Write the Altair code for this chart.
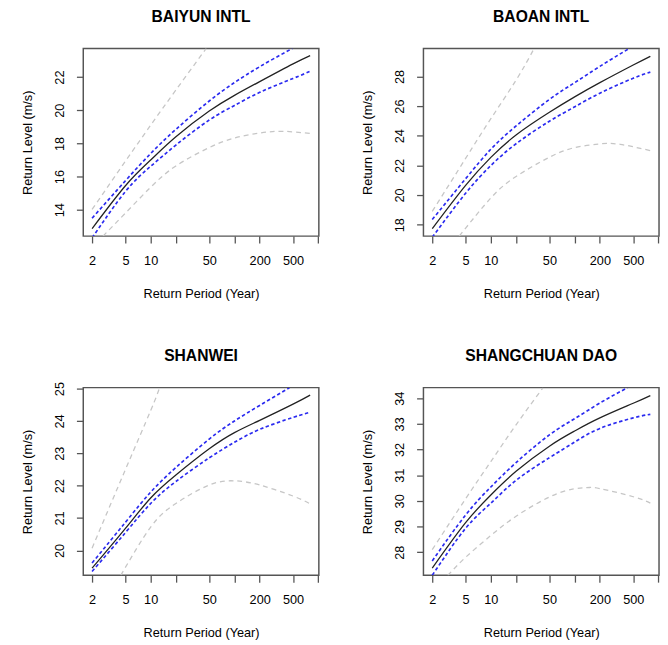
import altair as alt
import pandas as pd

# Panel titles
TITLES = ["BAIYUN INTL", "BAOAN INTL", "SHANWEI", "SHANGCHUAN DAO"]

# Common return periods (years)
RP = [2, 5, 10, 20, 50, 100, 200, 500, 800]

# ---- BAIYUN INTL ----
BY_RL = [12.86, 15.45, 17.0, 18.4, 19.95, 20.9, 21.73, 22.8, 23.3]
BY_HI_X = [2, 5, 10, 20, 50, 100, 200, 490]
BY_HI = [13.49, 15.75, 17.39, 18.85, 20.56, 21.67, 22.63, 23.73]
BY_LO = [12.3, 15.1, 16.62, 17.9, 19.41, 20.29, 21.08, 21.92, 22.35]
BY_GHI_X = [2, 5, 10, 20, 46]
BY_GHI = [14.02, 16.93, 19.1, 21.22, 23.73]
BY_GLO_X = [2.7, 5, 10, 20, 50, 100, 200, 380, 800]
BY_GLO = [12.41, 13.8, 15.36, 16.64, 17.75, 18.33, 18.63, 18.73, 18.6]
BY_YDOM = [12.41, 23.73]
BY_YTICKS = [14, 16, 18, 20, 22]

# ---- BAOAN INTL ----
BA_RL = [17.73, 20.65, 22.54, 24.05, 25.58, 26.62, 27.58, 28.77, 29.36]
BA_HI_X = [2, 5, 10, 20, 50, 100, 200, 449]
BA_HI = [18.35, 21.1, 23.09, 24.66, 26.45, 27.58, 28.68, 29.89]
BA_LO = [17.15, 20.12, 21.99, 23.46, 24.98, 25.95, 26.87, 27.88, 28.29]
BA_GHI_X = [2, 5, 10, 20, 32.9]
BA_GHI = [18.9, 22.47, 25.15, 27.75, 29.89]
BA_GLO_X = [4.2, 10, 20, 50, 100, 200, 350, 800]
BA_GLO = [17.23, 19.8, 21.25, 22.55, 23.2, 23.45, 23.42, 23.0]
BA_YDOM = [17.23, 29.89]
BA_YTICKS = [18, 20, 22, 24, 26, 28]

# ---- SHANWEI ----
SW_RL = [19.45, 20.68, 21.62, 22.33, 23.14, 23.64, 24.02, 24.52, 24.8]
SW_HI_X = [2, 5, 10, 20, 50, 100, 200, 454]
SW_HI = [19.61, 20.87, 21.8, 22.56, 23.44, 24.0, 24.48, 25.03]
SW_LO = [19.35, 20.55, 21.45, 22.13, 22.86, 23.34, 23.74, 24.11, 24.27]
SW_GHI_X = [2, 5, 10, 12.8]
SW_GHI = [20.07, 22.5, 24.32, 25.03]
SW_GLO_X = [4.4, 10, 20, 50, 100, 200, 500, 800]
SW_GLO = [19.23, 20.72, 21.45, 22.02, 22.15, 22.02, 21.68, 21.44]
SW_YDOM = [19.23, 25.03]
SW_YTICKS = [20, 21, 22, 23, 24, 25]

# ---- SHANGCHUAN DAO ----
SC_RL = [27.38, 29.15, 30.23, 31.15, 32.13, 32.72, 33.23, 33.8, 34.1]
SC_HI_X = [2, 5, 10, 20, 50, 100, 200, 429]
SC_HI = [27.66, 29.45, 30.54, 31.49, 32.57, 33.2, 33.81, 34.41]
SC_LO = [27.1, 28.93, 29.91, 30.8, 31.68, 32.29, 32.82, 33.23, 33.37]
SC_GHI_X = [2, 5, 10, 20, 42]
SC_GHI = [28.1, 30.08, 31.53, 32.96, 34.41]
SC_GLO_X = [3.07, 5, 10, 20, 50, 100, 150, 200, 500, 800]
SC_GLO = [27.1, 27.8, 28.65, 29.4, 30.15, 30.47, 30.52, 30.48, 30.16, 29.91]
SC_YDOM = [27.10, 34.41]
SC_YTICKS = [28, 29, 30, 31, 32, 33, 34]

X_DOM = [1.57, 1016]
X_TICKS = [2, 5, 10, 20, 50, 100, 200, 500, 1000]
X_LABELED = [2, 5, 10, 50, 200, 500]

FONT = "Liberation Sans"
W, H = 241, 192


def frame(xs, ys, name):
    return pd.DataFrame({"x": xs, "y": ys, "s": name})


def panel(title, rl, hi_x, hi, lo, ghi_x, ghi, glo_x, glo, ydom, yticks):
    df = pd.concat([
        frame(RP, rl, "rl"),
        frame(hi_x, hi, "hi"),
        frame(RP, lo, "lo"),
        frame(ghi_x, ghi, "ghi"),
        frame(glo_x, glo, "glo"),
    ], ignore_index=True)
    base = alt.Chart(df)
    xenc = alt.X("x:Q", scale=alt.Scale(type="log", domain=X_DOM, nice=False),
                 axis=alt.Axis(values=X_TICKS, title="Return Period (Year)",
                               labelExpr="indexof(%s, datum.value) >= 0 ? format(datum.value, 'd') : ''" % str(X_LABELED),
                               labelOverlap=False, labelFlush=False, grid=False, domain=False,
                               tickSize=7, tickColor="#555", tickWidth=1.3,
                               labelPadding=12, titlePadding=21,
                               labelFont=FONT, labelFontSize=13, labelColor="#000",
                               titleFont=FONT, titleFontSize=13, titleFontWeight="normal", titleColor="#000"))
    yenc = alt.Y("y:Q", scale=alt.Scale(domain=ydom, nice=False, zero=False),
                 axis=alt.Axis(values=yticks, title="Return Level (m/s)", format="d",
                               labelAngle=-90, labelOverlap=False, labelFlush=False, grid=False, domain=False,
                               tickSize=7, tickColor="#555", tickWidth=1.3,
                               labelPadding=10, titlePadding=20,
                               labelFont=FONT, labelFontSize=13, labelColor="#000",
                               titleFont=FONT, titleFontSize=13, titleFontWeight="normal", titleColor="#000"))

    def line(name, color, width, dash=None):
        kw = dict(clip=True, interpolate="natural", color=color, strokeWidth=width)
        if dash:
            kw["strokeDash"] = dash
        return base.transform_filter(alt.datum.s == name).mark_line(**kw).encode(x=xenc, y=yenc)

    head = alt.Chart(pd.DataFrame({"t": [title]})).mark_text(
        font=FONT, fontSize=16, fontWeight="bold", color="#000",
        align="center", baseline="middle",
    ).encode(text="t:N", x=alt.value(W / 2), y=alt.value(-32))

    layers = [
        line("ghi", "#c6c6c6", 1.3, [5, 4]),
        line("glo", "#c6c6c6", 1.3, [5, 4]),
        line("hi", "#2a2af0", 1.7, [3.5, 2.5]),
        line("lo", "#2a2af0", 1.7, [3.5, 2.5]),
        line("rl", "#222222", 1.3),
        head,
    ]
    return alt.layer(*layers).properties(width=W, height=H)


p1 = panel(TITLES[0], BY_RL, BY_HI_X, BY_HI, BY_LO, BY_GHI_X, BY_GHI, BY_GLO_X, BY_GLO, BY_YDOM, BY_YTICKS)
p2 = panel(TITLES[1], BA_RL, BA_HI_X, BA_HI, BA_LO, BA_GHI_X, BA_GHI, BA_GLO_X, BA_GLO, BA_YDOM, BA_YTICKS)
p3 = panel(TITLES[2], SW_RL, SW_HI_X, SW_HI, SW_LO, SW_GHI_X, SW_GHI, SW_GLO_X, SW_GLO, SW_YDOM, SW_YTICKS)
p4 = panel(TITLES[3], SC_RL, SC_HI_X, SC_HI, SC_LO, SC_GHI_X, SC_GHI, SC_GLO_X, SC_GLO, SC_YDOM, SC_YTICKS)

chart = alt.concat(p1, p2, p3, p4, columns=2, spacing={"row": 155, "column": 107}, bounds="flush").properties(
    padding={"left": 13, "top": -7, "right": 0, "bottom": 0}
).configure_view(stroke="#555", strokeWidth=1.5)

chart.save("out.html", embed_options={"renderer": "svg", "actions": False})
